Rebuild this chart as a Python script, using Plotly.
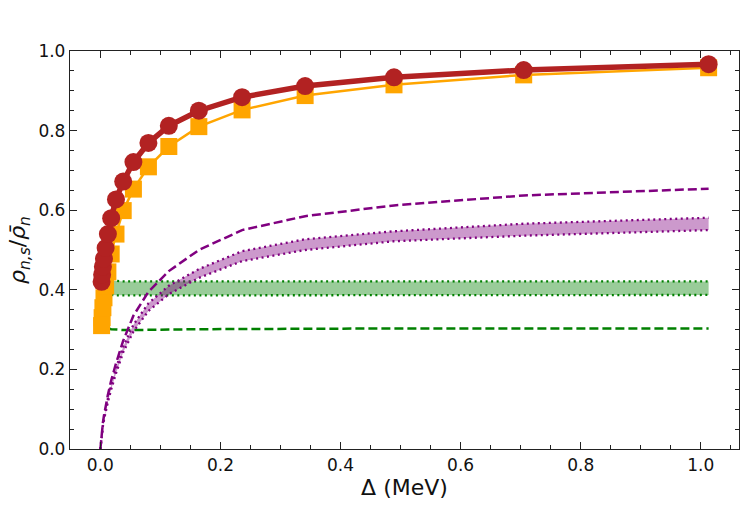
import plotly.graph_objects as go

# ---- data ----
delta = [0.002, 0.0029, 0.0042, 0.006, 0.0087, 0.0125, 0.018, 0.026, 0.038,
         0.055, 0.080, 0.114, 0.164, 0.236, 0.341, 0.489, 0.705, 1.013]
red_circles = [0.420, 0.438, 0.458, 0.478, 0.505, 0.540, 0.580, 0.627, 0.672,
               0.721, 0.769, 0.812, 0.850, 0.884, 0.912, 0.934, 0.952, 0.967]
orange_squares = [0.310, 0.330, 0.355, 0.380, 0.410, 0.445, 0.490, 0.540, 0.599,
                  0.653, 0.709, 0.760, 0.810, 0.852, 0.888, 0.915, 0.940, 0.958]

green_dashed = [0.328, 0.322, 0.316, 0.310, 0.306, 0.303, 0.301, 0.300, 0.299,
                0.299, 0.300, 0.300, 0.301, 0.302, 0.302, 0.303, 0.303, 0.303]
green_upper = [0.432, 0.431, 0.429, 0.427, 0.425, 0.424, 0.423, 0.422, 0.421,
               0.421, 0.421, 0.421, 0.421, 0.421, 0.421, 0.421, 0.421, 0.421]
green_lower = [0.397, 0.395, 0.393, 0.391, 0.389, 0.388, 0.387, 0.386, 0.386,
               0.386, 0.386, 0.387, 0.387, 0.387, 0.387, 0.387, 0.387, 0.387]

delta_p = [0.0] + delta
purple_dashed = [0.0, 0.040, 0.052, 0.066, 0.084, 0.108, 0.136, 0.172, 0.215, 0.272,
                 0.335, 0.395, 0.447, 0.500, 0.550, 0.585, 0.612, 0.637, 0.654]
purple_upper = [0.0, 0.038, 0.049, 0.062, 0.079, 0.100, 0.127, 0.161, 0.203, 0.257,
                0.312, 0.366, 0.410, 0.452, 0.497, 0.527, 0.547, 0.566, 0.581]
purple_lower = [0.0, 0.035, 0.045, 0.057, 0.073, 0.093, 0.118, 0.150, 0.190, 0.243,
                0.295, 0.347, 0.389, 0.430, 0.472, 0.500, 0.522, 0.536, 0.550]

x_ticks = [0.0, 0.2, 0.4, 0.6, 0.8, 1.0]
y_ticks = [0.0, 0.2, 0.4, 0.6, 0.8, 1.0]

DASH = "9px,4px"
DOT = "2px,3.5px"

fig = go.Figure()

# green
fig.add_trace(go.Scatter(x=delta, y=green_dashed, mode="lines",
                         line=dict(color="green", width=2.5, dash=DASH)))
fig.add_trace(go.Scatter(x=delta, y=green_lower, mode="lines",
                         line=dict(color="green", width=2.3, dash=DOT)))
fig.add_trace(go.Scatter(x=delta, y=green_upper, mode="lines", fill="tonexty",
                         fillcolor="rgba(0,128,0,0.4)",
                         line=dict(color="green", width=2.3, dash=DOT)))
# purple
fig.add_trace(go.Scatter(x=delta_p, y=purple_dashed, mode="lines",
                         line=dict(color="purple", width=2.5, dash=DASH)))
fig.add_trace(go.Scatter(x=delta_p, y=purple_lower, mode="lines",
                         line=dict(color="purple", width=2.3, dash=DOT)))
fig.add_trace(go.Scatter(x=delta_p, y=purple_upper, mode="lines", fill="tonexty",
                         fillcolor="rgba(128,0,128,0.4)",
                         line=dict(color="purple", width=2.3, dash=DOT)))
# orange squares
fig.add_trace(go.Scatter(x=delta, y=orange_squares, mode="lines+markers",
                         line=dict(color="orange", width=2.5),
                         marker=dict(symbol="square", size=17, color="orange")))
# red circles
fig.add_trace(go.Scatter(x=delta, y=red_circles, mode="lines+markers",
                         line=dict(color="firebrick", width=5.5),
                         marker=dict(symbol="circle", size=18, color="firebrick")))

axis_common = dict(
    showline=True, linecolor="#222222", linewidth=1.3, mirror="ticks",
    ticks="inside", ticklen=7, tickwidth=1.3, tickcolor="#222222",
    showgrid=False, zeroline=False,
    tickfont=dict(family="DejaVu Sans", size=17, color="#111111"),
    minor=dict(ticks="inside", ticklen=4, tickwidth=1, tickcolor="#222222",
               dtick=0.05, showgrid=False),
)

fig.update_xaxes(range=[-0.0506, 1.0636], tickvals=x_ticks,
                 ticktext=[f"{v:.1f}" for v in x_ticks],
                 title=dict(text="Δ (MeV)", font=dict(family="DejaVu Sans", size=22, color="#111111"),
                            standoff=4),
                 **axis_common)
fig.update_yaxes(range=[0, 1], tickvals=y_ticks,
                 ticktext=[f"{v:.1f}" for v in y_ticks],
                 title=dict(text="<i>ρ</i><sub><i>n,s</i></sub>/<i>ρ̄</i><sub><i>n</i></sub>",
                            font=dict(family="DejaVu Sans", size=22, color="#111111"),
                            standoff=6),
                 **axis_common)

fig.update_layout(
    width=747, height=523,
    margin=dict(l=70, r=8, t=51, b=74),
    paper_bgcolor="white", plot_bgcolor="white",
    showlegend=False,
)

fig.write_html("out.html")
